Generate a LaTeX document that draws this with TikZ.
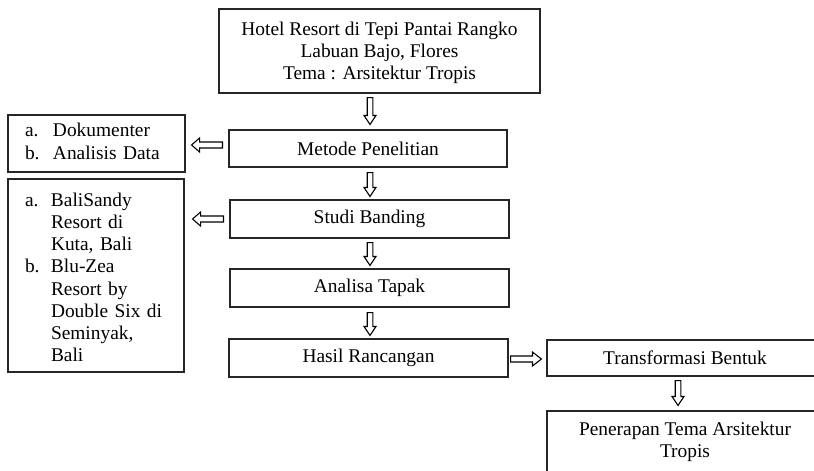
\documentclass[tikz,border=0pt]{standalone}
\usepackage{fontspec}
\setmainfont{Liberation Serif}
\usetikzlibrary{calc}
\newcommand{\fsz}{\fontsize{19.4}{22.2}\selectfont}
\tikzset{
  box/.style={draw=black!85, line width=1.1pt, inner sep=0pt, align=center, font=\fsz},
  listbox/.style={draw=black!85, line width=1.1pt, inner ysep=0pt, inner xsep=17pt, align=left, font=\fsz},
  barrow/.style={draw=black, line width=1.1pt, fill=white, line join=miter},
}
% vertical block arrow: from node, to node, x, gap at start, gap at end
\newcommand{\varrow}[5]{%
  \draw[barrow] let \p1=(#1.south), \p2=(#2.north) in
   (#3pt-2.8pt,\y1-#4pt) -- (#3pt+2.8pt,\y1-#4pt) -- (#3pt+2.8pt,\y2+#5pt+9pt)
   -- (#3pt+6pt,\y2+#5pt+9pt) -- (#3pt,\y2+#5pt) -- (#3pt-6pt,\y2+#5pt+9pt)
   -- (#3pt-2.8pt,\y2+#5pt+9pt) -- cycle;}
% leftward block arrow: from node (right), to node (left), y, gaps
\newcommand{\larrow}[5]{%
  \draw[barrow] let \p1=(#1.west), \p2=(#2.east) in
   (\x1-#4pt,#3pt+3pt) -- (\x2+#5pt+8pt,#3pt+3pt) -- (\x2+#5pt+8pt,#3pt+7pt)
   -- (\x2+#5pt,#3pt) -- (\x2+#5pt+8pt,#3pt-7pt) -- (\x2+#5pt+8pt,#3pt-3pt)
   -- (\x1-#4pt,#3pt-3pt) -- cycle;}
% rightward block arrow
\newcommand{\rarrow}[5]{%
  \draw[barrow] let \p1=(#1.east), \p2=(#2.west) in
   (\x1+#4pt,#3pt+3pt) -- (\x2-#5pt-9pt,#3pt+3pt) -- (\x2-#5pt-9pt,#3pt+7pt)
   -- (\x2-#5pt,#3pt) -- (\x2-#5pt-9pt,#3pt-7pt) -- (\x2-#5pt-9pt,#3pt-3pt)
   -- (\x1+#4pt,#3pt-3pt) -- cycle;}
\begin{document}
\begin{tikzpicture}[x=1pt,y=1pt]
\useasboundingbox[fill=white] (0,0) rectangle (814,-471);

\node[box, minimum width=321pt, minimum height=84pt] (top) at (379.5,-51)
  {\raisebox{-2pt}[\height][\depth]{\begin{tabular}{@{}c@{}}Hotel Resort di Tepi Pantai Rangko\\Labuan Bajo, Flores\\Tema : Arsitektur Tropis\end{tabular}}};
\node[box, minimum width=278pt, minimum height=37pt] (metode) at (368,-148.5) {Metode Penelitian};
\node[box, minimum width=279pt, minimum height=38pt] (studi) at (369.5,-219) {Studi Banding};
\node[box, minimum width=279pt, minimum height=38pt] (analisa) at (369.5,-288) {Analisa Tapak};
\node[box, minimum width=279pt, minimum height=38pt] (hasil) at (368.5,-358) {Hasil Rancangan};
\node[box, minimum width=276pt, minimum height=36pt] (trans) at (685,-358) {Transformasi Bentuk};
\node[box, minimum width=276pt, minimum height=61pt] (pen) at (685,-441.5)
  {Penerapan Tema Arsitektur\\Tropis};

\node[listbox, text width=143pt, minimum height=57pt] (dok) at (96.5,-143.5)
  {\begin{tabular}{@{}p{28pt}@{}l@{}}a. & Dokumenter\\ b. & Analisis Data\end{tabular}};
\node[listbox, text width=142pt, minimum height=193pt] (banding) at (96,-275.5)
  {\raisebox{-4pt}[\height][\depth]{\begin{tabular}{@{}p{26pt}@{}l@{}}a. & BaliSandy\\ & Resort di\\ & Kuta, Bali\\
   b. & Blu-Zea\\ & Resort by\\ & Double Six di\\ & Seminyak,\\ & Bali\end{tabular}}};

\varrow{top}{metode}{370}{4}{5}
\varrow{metode}{studi}{370}{5}{3}
\varrow{studi}{analisa}{370}{4}{3}
\varrow{analisa}{hasil}{370}{5}{3}
\varrow{trans}{pen}{678}{4}{5}
\larrow{metode}{dok}{-145}{6}{6}
\larrow{studi}{banding}{-219}{6}{8}
\rarrow{hasil}{trans}{-359}{2}{5}
\end{tikzpicture}
\end{document}
